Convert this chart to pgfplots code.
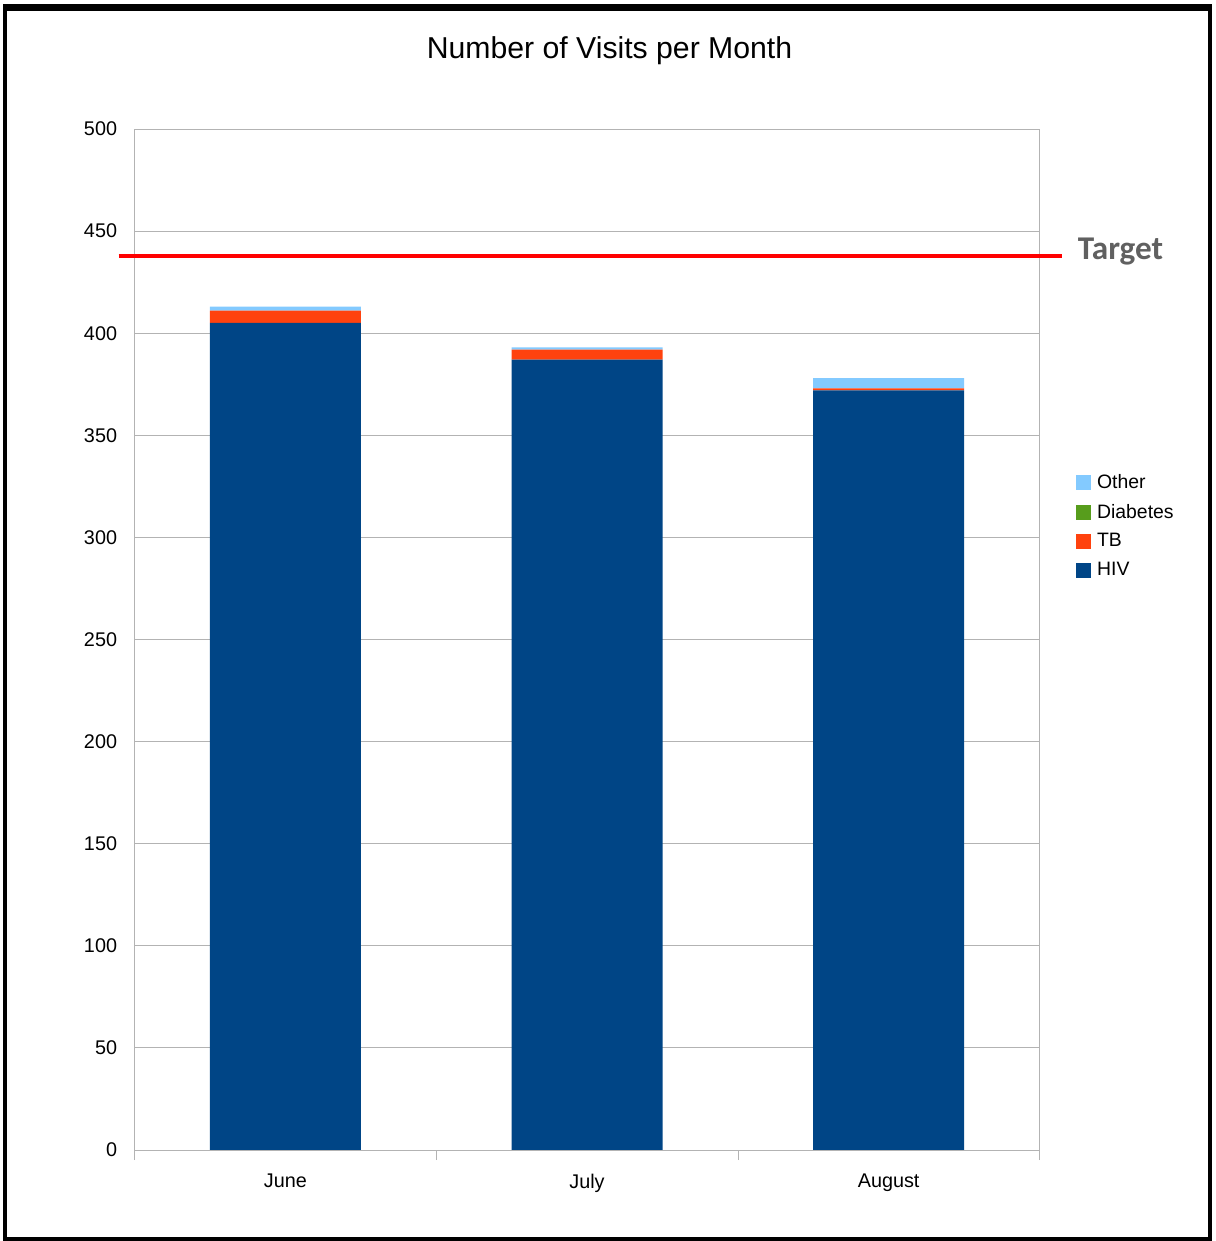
\documentclass[border=0pt]{standalone}
\usepackage{pgfplots}
\pgfplotsset{compat=1.18}
\usepackage{fontspec}
\setmainfont{Liberation Sans}
\newfontfamily\carlito{Carlito}
\definecolor{hiv}{HTML}{004586}
\definecolor{tb}{HTML}{FF420E}
\definecolor{diab}{HTML}{579D1C}
\definecolor{oth}{HTML}{83CAFF}
\definecolor{gridc}{HTML}{B3B3B3}
\definecolor{targ}{HTML}{606060}
\pgfplotsset{sq/.style={legend image code/.code={\fill[##1] (0pt,-3.75pt) rectangle (7.5pt,3.75pt);}}}
\begin{document}
\begin{tikzpicture}
\begin{scope}[x=0.5pt,y=-0.5pt,shift={(-67pt,575pt)}]
\useasboundingbox (0,0) rectangle (1213,1241);
\end{scope}
\begin{axis}[
  scale only axis, width=452.5pt, height=510.5pt,
  at={(0,0)}, anchor=south west,
  xmin=-0.5, xmax=2.5, ymin=0, ymax=500,
  ybar stacked, bar width=75.5pt,
  xtick={0,1,2}, xticklabels={June,July,August},
  minor xtick={-0.5,0.5,1.5,2.5},
  ytick={0,50,...,500},
  ymajorgrids, major grid style={color=gridc},
  axis line style={gridc},
  tick style={gridc},
  major tick length=0pt, minor tick length=5pt,
  tick align=outside, tick pos=left,
  ticklabel style={font=\fontsize{9.9}{11}\selectfont},
  /pgf/number format/assume math mode=true,
  yticklabel style={xshift=-5.2pt},
  xticklabel style={yshift=-8.5pt},
  legend style={at={(1.04,0.666)}, anchor=north west, draw=none, fill=none,
    font=\fontsize{9.7}{11}\selectfont, row sep=2.25pt, inner sep=0pt,
    nodes={inner xsep=3pt}},
  legend cell align=left,
  reverse legend,
]
\addplot[fill=hiv, draw=none, sq] coordinates {(0,405) (1,387) (2,372)};
\addplot[fill=tb, draw=none, sq] coordinates {(0,6) (1,5) (2,1)};
\addplot[fill=diab, draw=none, sq] coordinates {(0,0) (1,0) (2,0)};
\addplot[fill=oth, draw=none, sq] coordinates {(0,2) (1,1) (2,5)};
\legend{HIV,TB,Diabetes,Other}
\end{axis}
\begin{axis}[
  scale only axis, width=452.5pt, height=510.5pt,
  at={(0,0)}, anchor=south west,
  xmin=-0.5, xmax=2.5, ymin=0, ymax=500,
  axis lines=none, clip=false, ticks=none,
]
\addplot[color=red, line width=2pt] coordinates {(-0.553,438) (2.573,438)};
\end{axis}
\begin{scope}[x=0.5pt,y=-0.5pt,shift={(-67pt,575pt)}]
\node[font=\fontsize{15.1}{17}\selectfont] at (609,51) {Number of Visits per Month};
\node[font=\carlito\bfseries\fontsize{16.6}{18}\selectfont, text=targ, anchor=west, inner sep=0pt] at (1077,252) {Target};
\draw[line width=2pt] (5,8) rectangle (1209,1239);
\draw[line width=3.5pt] (3,8) -- (1211,8);
\end{scope}
\end{tikzpicture}
\end{document}
